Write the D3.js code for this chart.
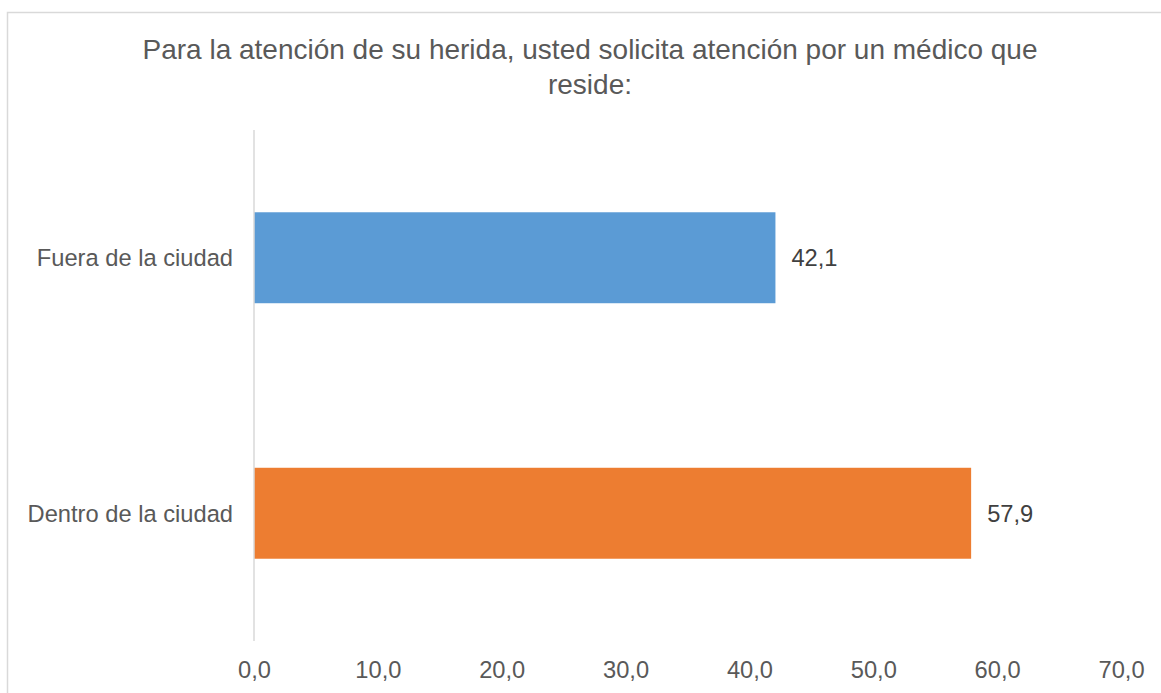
<!DOCTYPE html>
<html>
<head>
<meta charset="utf-8">
<script src="https://cdn.jsdelivr.net/npm/d3@7"></script>
<style>
  body { margin: 0; background: #fff; }
  text { font-family: "Liberation Sans", Arial, sans-serif; }
</style>
</head>
<body>
<div id="chart"></div>
<script>
// data
const categories = ["Fuera de la ciudad", "Dentro de la ciudad"]
const values = [42.1, 57.9]
const colors = ["#5B9BD5", "#ED7D31"]
const xTicks = [0, 10, 20, 30, 40, 50, 60, 70]
const titleLines = ["Para la atención de su herida, usted solicita atención por un médico que", "reside:"]

function drawBarChart() {

  const width = 1161
  const height = 693
  const labelSize = "23.7px"
  const fmt = d => d3.format(".1f")(d).replace(".", ",")

  const svg = d3.select("#chart")
    .append("svg")
      .attr("width", width)
      .attr("height", height)

  // outer frame (runs off right/bottom like the source)
  svg.append("rect")
    .attr("x", 7.5)
    .attr("y", 12.5)
    .attr("width", 1160)
    .attr("height", 700)
    .attr("fill", "none")
    .attr("stroke", "#d9d9d9")
    .attr("stroke-width", 1.5)

  // title
  svg.append("text")
    .attr("x", 590)
    .attr("y", 59)
    .attr("text-anchor", "middle")
    .attr("fill", "#595959")
    .style("font-size", "28px")
    .selectAll("tspan")
    .data(titleLines)
    .join("tspan")
      .attr("x", 590)
      .attr("dy", (d, i) => i ? 35 : 0)
      .text(d => d)

  // scales
  const xScale = d3.scaleLinear()
    .domain([0, 70])
    .range([254, 1121])

  const yScale = d3.scaleBand()
    .domain(categories)
    .range([130, 641])
    .paddingInner(0.644)
    .paddingOuter(0.322)

  // bars
  svg.append("g")
    .selectAll("rect")
    .data(values)
    .join("rect")
      .attr("x", xScale(0))
      .attr("y", (d, i) => yScale(categories[i]))
      .attr("width", d => xScale(d) - xScale(0))
      .attr("height", yScale.bandwidth())
      .attr("fill", (d, i) => colors[i])

  // vertical axis line
  svg.append("line")
    .attr("x1", xScale(0))
    .attr("x2", xScale(0))
    .attr("y1", 130)
    .attr("y2", 641)
    .attr("stroke", "#d9d9d9")
    .attr("stroke-width", 1.5)

  // category labels
  svg.append("g")
    .selectAll("text")
    .data(categories)
    .join("text")
      .attr("x", 233)
      .attr("y", d => yScale(d) + yScale.bandwidth() / 2)
      .attr("dy", "0.35em")
      .attr("text-anchor", "end")
      .attr("fill", "#595959")
      .style("font-size", labelSize)
      .text(d => d)

  // value labels
  svg.append("g")
    .selectAll("text")
    .data(values)
    .join("text")
      .attr("x", d => xScale(d) + 16)
      .attr("y", (d, i) => yScale(categories[i]) + yScale.bandwidth() / 2)
      .attr("dy", "0.35em")
      .attr("fill", "#404040")
      .style("font-size", labelSize)
      .text(d => fmt(d))

  // x axis labels
  const xAxis = svg.append("g")
    .attr("transform", "translate(0, 661)")
    .call(d3.axisBottom(xScale).tickValues(xTicks).tickFormat(fmt).tickSize(0).tickPadding(0))

  xAxis.select(".domain").remove()
  xAxis.selectAll("text")
    .attr("fill", "#595959")
    .style("font-size", labelSize)
    .style("font-family", "'Liberation Sans', Arial, sans-serif")
}
drawBarChart()
</script>
</body>
</html>
